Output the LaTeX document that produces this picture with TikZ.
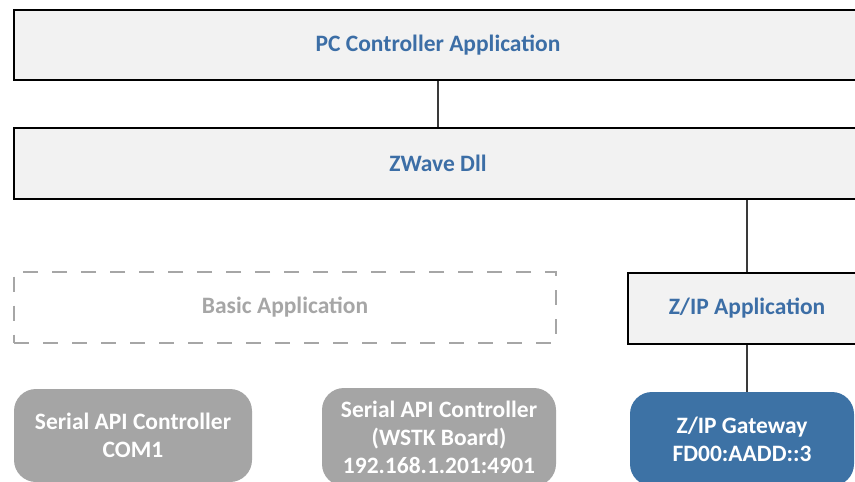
\documentclass[tikz,border=0pt]{standalone}
\usepackage{fontspec}
\setmainfont{Carlito}
\definecolor{lblue}{HTML}{3C6EA6}
\definecolor{boxfill}{HTML}{F2F2F2}
\definecolor{gtext}{HTML}{A6A6A6}
\definecolor{gfill}{HTML}{A5A5A5}
\definecolor{bfill}{HTML}{3D72A5}
\definecolor{conn}{HTML}{3A3A3A}
\tikzset{
  layerbox/.style={draw=black, line width=2pt, fill=boxfill, text=lblue, font=\fontsize{23.5}{28}\selectfont\bfseries, inner sep=0pt},
  dashbox/.style={draw=gtext, line width=2pt, dash pattern=on 15pt off 14pt, text=gtext, font=\fontsize{23.5}{28}\selectfont\bfseries, inner sep=0pt},
  devbox/.style={rounded corners=22pt, text=white, align=center, font=\fontsize{23.5}{28}\selectfont\bfseries, inner sep=0pt},
  link/.style={draw=conn, line width=1.5pt}
}
\begin{document}
\begin{tikzpicture}[x=1pt,y=-1pt]
\useasboundingbox (0,0) rectangle (855,482);
\fill[white] (0,0) rectangle (855,482);
\clip (0,0) rectangle (855,482);
\node[layerbox, minimum width=848pt, minimum height=70pt] (pc) at (438,45) {PC Controller Application};
\node[layerbox, minimum width=848pt, minimum height=71pt] (zw) at (438,163.5) {ZWave Dll};
\node[dashbox, minimum width=542pt, minimum height=71pt] (basic) at (285,307) {Basic Application};
\node[layerbox, minimum width=238pt, minimum height=71pt] (zip) at (747,308.5) {Z/IP Application};
\node[devbox, fill=gfill, minimum width=238pt, minimum height=93pt] (com) at (133,435.5) {Serial API Controller\\COM1};
\node[devbox, fill=gfill, minimum width=234pt, minimum height=98pt] (wstk) at (439,437) {Serial API Controller\\(WSTK Board)\\192.168.1.201:4901};
\node[devbox, fill=bfill, minimum width=224pt, minimum height=94pt] (gw) at (742,439) {Z/IP Gateway\\FD00:AADD::3};
\draw[link] (pc.south) -- (zw.north);
\draw[link] (zw.south -| zip.north) -- (zip.north);
\draw[link] (zip.south) -- (gw.north -| zip.south);
\end{tikzpicture}
\end{document}
